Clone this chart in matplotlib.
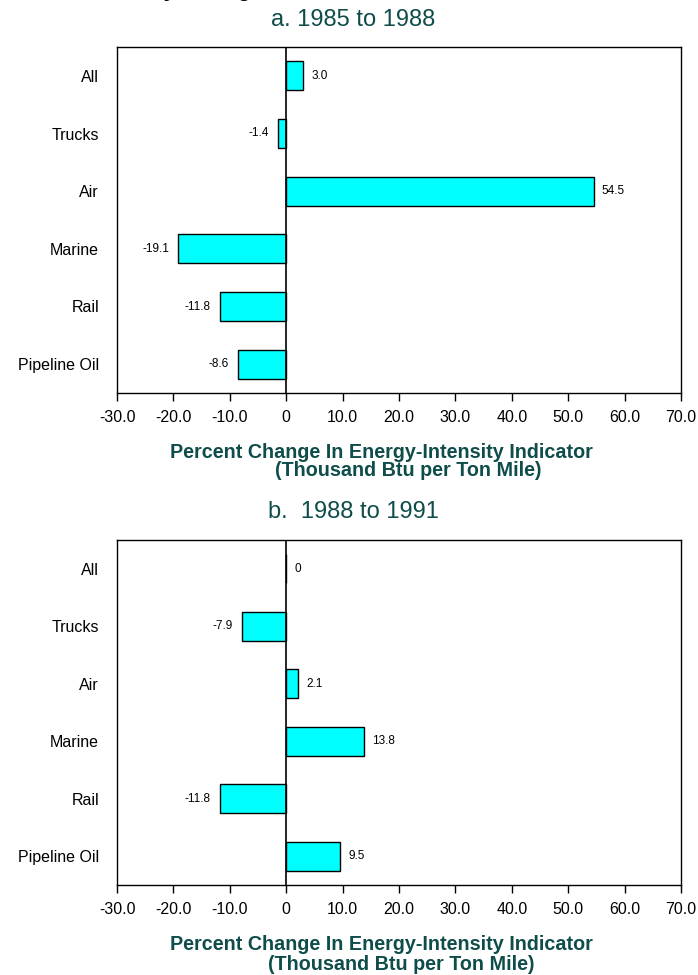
import matplotlib
matplotlib.use("Agg")
import matplotlib.pyplot as plt
from matplotlib.ticker import FixedLocator, FixedFormatter

plt.rcParams['font.family'] = ['Liberation Sans', 'DejaVu Sans']

categories = ["All", "Trucks", "Air", "Marine", "Rail", "Pipeline Oil"]
values_a = [3.0, -1.4, 54.5, -19.1, -11.8, -8.6]
labels_a = ["3.0", "-1.4", "54.5", "-19.1", "-11.8", "-8.6"]
values_b = [0.0, -7.9, 2.1, 13.8, -11.8, 9.5]
labels_b = ["0", "-7.9", "2.1", "13.8", "-11.8", "9.5"]
panel_titles = ["a. 1985 to 1988", "b.  1988 to 1991"]
xticks = [-30, -20, -10, 0, 10, 20, 30, 40, 50, 60, 70]
xticklabels = ["-30.0", "-20.0", "-10.0", "0", "10.0", "20.0", "30.0", "40.0", "50.0", "60.0", "70.0"]
xlabel_line1 = "Percent Change In Energy-Intensity Indicator"
xlabel_line2 = "(Thousand Btu per Ton Mile)"

TEAL = "#0f4d4a"
W, H = 698, 975
fig = plt.figure(figsize=(W / 100, H / 100), dpi=100)

def fx(px):
    return px / W

def fy(py):
    return 1 - py / H

# figure title, cut off at the top edge as in the reference
fig.text(fx(85), fy(-4), "Intensity Change", fontsize=16, fontweight="bold",
         ha="left", va="baseline", color="black")

panels = [
    (values_a, labels_a, panel_titles[0], 47, 393, 20, 452, 471, 408),
    (values_b, labels_b, panel_titles[1], 540, 885, 512, 944, 964, 401),
]

for vals, labs, title, top, bottom, ty, l1y, l2y, l2x in panels:
    ax = fig.add_axes([fx(117), fy(bottom), fx(681) - fx(117), fy(top) - fy(bottom)])
    ypos = list(range(len(categories)))[::-1]
    ax.barh(ypos, vals, height=0.5, color="#00FFFF", edgecolor="black", linewidth=1.0, zorder=3)
    ax.axvline(0, color="black", linewidth=1.2, zorder=4)
    for y, v, lab in zip(ypos, vals, labs):
        if v >= 0:
            ax.annotate(lab, (v, y), xytext=(6, 0), textcoords="offset points",
                        ha="left", va="center", fontsize=8.5)
        else:
            ax.annotate(lab, (v, y), xytext=(-6.5, 0), textcoords="offset points",
                        ha="right", va="center", fontsize=8.5)
    ax.set_xlim(-30, 70)
    ax.set_ylim(-0.5, len(categories) - 0.5)
    ax.xaxis.set_major_locator(FixedLocator(xticks))
    ax.xaxis.set_major_formatter(FixedFormatter(xticklabels))
    ax.set_yticks(ypos)
    ax.set_yticklabels(categories, fontsize=11.5)
    ax.tick_params(axis="y", length=0, pad=13)
    ax.tick_params(axis="x", direction="out", length=6, width=1, labelsize=11.5, pad=6)
    for s in ax.spines.values():
        s.set_linewidth(1.0)
    fig.text(fx(353), fy(ty), title, ha="center", va="center", fontsize=17, color=TEAL)
    fig.text(fx(381), fy(l1y), xlabel_line1, ha="center", va="center", fontsize=14.2,
             fontweight="bold", color=TEAL)
    fig.text(fx(l2x), fy(l2y), xlabel_line2, ha="center", va="center", fontsize=14.2,
             fontweight="bold", color=TEAL)

fig.savefig("out.png", dpi=100)
